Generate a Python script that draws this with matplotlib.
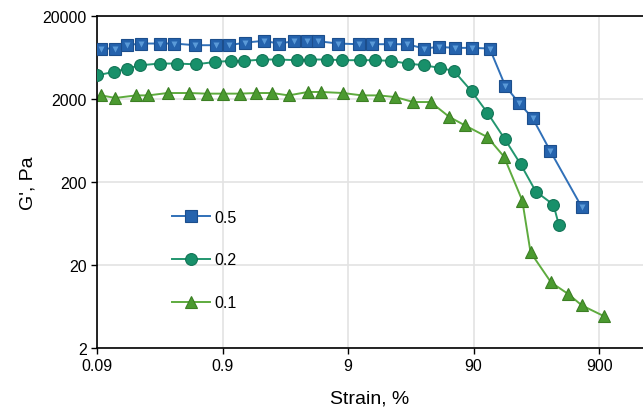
import matplotlib.pyplot as plt
import numpy as np
from matplotlib.ticker import FixedLocator, NullLocator

plt.rcParams['font.family'] = ['Liberation Sans', 'DejaVu Sans']

# G' vs strain for three concentrations
x_05 = [0.097, 0.125, 0.155, 0.2, 0.283, 0.37, 0.544, 0.80, 1.02, 1.37, 1.91, 2.54,
        3.33, 4.21, 5.19, 7.5, 10.9, 14.0, 19.4, 26.4, 36.5, 47.5, 63.7, 88, 121,
        161, 206, 266, 367, 656]
g_05 = [8070, 8070, 8850, 9270, 9270, 9270, 8850, 8850, 8850, 9530, 9980, 9270,
        9890, 10070, 9890, 9270, 9100, 9100, 9100, 9100, 8070, 8450, 8220, 8220, 8070,
        2860, 1800, 1170, 473, 99]

x_02 = [0.09, 0.122, 0.155, 0.198, 0.283, 0.387, 0.552, 0.79, 1.05, 1.34, 1.87, 2.48,
        3.54, 4.47, 6.08, 8.1, 11.3, 14.8, 19.8, 26.8, 36.5, 48.6, 62.7, 86.7, 116,
        159, 214, 282, 390, 431]
g_02 = [3840, 4220, 4620, 5070, 5320, 5320, 5210, 5570, 5730, 5730, 5950, 5950,
        5840, 5950, 5950, 5840, 5840, 5840, 5730, 5320, 5070, 4710, 4340, 2470, 1360,
        661, 324, 153, 106, 60]

x_01 = [0.097, 0.126, 0.184, 0.23, 0.328, 0.486, 0.67, 0.91, 1.24, 1.67, 2.24, 3.02,
        4.31, 5.43, 8.2, 11.6, 15.8, 21.4, 29.8, 40.9, 57.7, 76.8, 116, 157, 220,
        256, 373, 512, 656, 991]
g_01 = [2200, 2050, 2200, 2200, 2350, 2350, 2310, 2310, 2310, 2350, 2350, 2200,
        2420, 2420, 2350, 2200, 2200, 2100, 1830, 1830, 1210, 958, 692, 404, 119,
        28.3, 12.3, 8.9, 6.5, 4.8]

x_ticks = [0.09, 0.9, 9, 90, 900]
x_ticklabels = ['0.09', '0.9', '9', '90', '900']
y_ticks = [2, 20, 200, 2000, 20000]
y_ticklabels = ['2', '20', '200', '2000', '20000']

fig = plt.figure(figsize=(6.43, 4.10), dpi=100)
ax = fig.add_axes([0.151, 0.149, 0.849, 0.810])

ax.plot(x_05, g_05, '-s', color='#3070b8', lw=1.4, ms=8.5,
        mfc='#2563ad', mec='#1c4e8c', mew=0.8, label='0.5', zorder=4)
ax.plot(x_05, g_05, 'v', ms=4.5, mfc='#5a9ad8', mec='none', zorder=5)
ax.plot(x_02, g_02, '-o', color='#22966f', lw=1.4, ms=8.5,
        mfc='#18906a', mec='#127456', mew=0.8, label='0.2', zorder=3)
ax.plot(x_01, g_01, '-^', color='#5eab3e', lw=1.4, ms=9,
        mfc='#4b9a30', mec='#3c7f24', mew=0.8, label='0.1', zorder=2)

ax.set_xscale('log')
ax.set_yscale('log')
ax.set_xlim(0.09, 2015)
ax.set_ylim(2, 20000)

ax.xaxis.set_major_locator(FixedLocator(x_ticks))
ax.xaxis.set_minor_locator(NullLocator())
ax.set_xticklabels(x_ticklabels)
ax.yaxis.set_major_locator(FixedLocator(y_ticks))
ax.yaxis.set_minor_locator(NullLocator())
ax.set_yticklabels(y_ticklabels)
ax.tick_params(labelsize=11.5, length=4, width=1, direction='out')

ax.grid(True, color='#e3e3e3', lw=1.2)
ax.set_axisbelow(True)
ax.spines['right'].set_visible(False)
for s in ['left', 'bottom', 'top']:
    ax.spines[s].set_linewidth(1.2)

ax.set_xlabel('Strain, %', fontsize=14, labelpad=12)
ax.set_ylabel("G', Pa", fontsize=14, labelpad=4)

ax.legend(loc='upper left', bbox_to_anchor=(0.11, 0.46), frameon=False,
          fontsize=11.5, handlelength=2.4, labelspacing=1.75, handletextpad=0.3)

fig.savefig('out.png', dpi=100)
